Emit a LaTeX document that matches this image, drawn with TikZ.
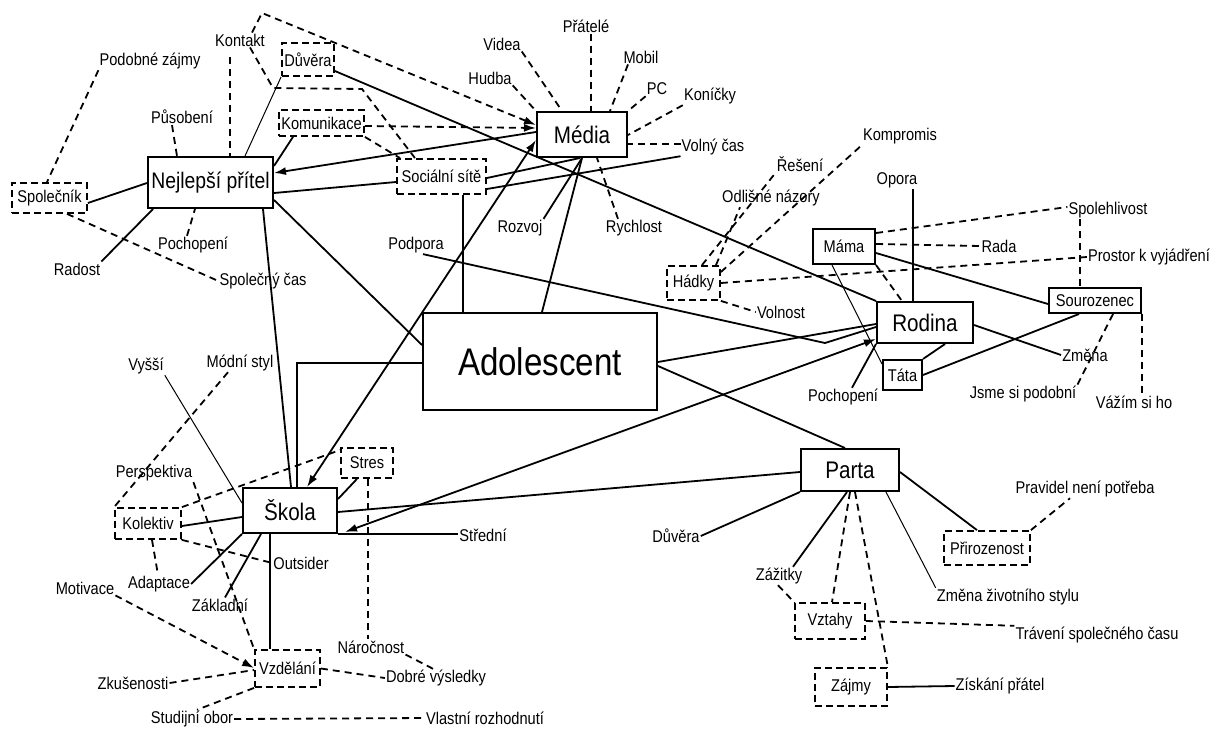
\documentclass[tikz,border=0pt]{standalone}
\usepackage{fontspec}
\setmainfont{Liberation Sans}[FakeStretch=0.86]
\usetikzlibrary{arrows.meta}
\begin{document}
\begin{tikzpicture}[x=1pt,y=-1pt,
  lab/.style={inner sep=1pt,font=\fontsize{17}{18}\selectfont},
  bx/.style={draw,line width=2pt,inner sep=0pt,font=\fontsize{17}{18}\selectfont},
  dbx/.style={draw,line width=1.8pt,dash pattern=on 7pt off 4pt,inner sep=0pt,font=\fontsize{17}{18}\selectfont},
  big/.style={font=\fontsize{24}{26}\selectfont},
  ln/.style={line width=1.8pt},
  tn/.style={line width=1pt},
  dl/.style={line width=1.8pt,dash pattern=on 7pt off 5pt},
  tip/.style={-{Latex[length=12pt,width=8pt]}},
]
\fill[white] (0,0) rectangle (1219,731);
\useasboundingbox (0,0) rectangle (1219,731);

% ---- solid boxes
\node[bx,big,minimum width=125pt,minimum height=51pt,font=\fontsize{22.5}{24}\selectfont] (np) at (210.5,182.5) {Nejlepší přítel};
\node[bx,big,minimum width=90pt,minimum height=45pt] (media) at (582,134.5) {Média};
\node[bx,minimum width=234pt,minimum height=97pt,font=\fontsize{38.5}{40}\selectfont] (adol) at (540,361.5) {Adolescent};
\node[bx,big,minimum width=96pt,minimum height=41pt] (rodina) at (925,322.5) {Rodina};
\node[bx,minimum width=62pt,minimum height=35pt] (mama) at (844,246.5) {Máma};
\node[bx,minimum width=39pt,minimum height=30pt] (tata) at (902.5,375) {Táta};
\node[bx,minimum width=92pt,minimum height=25pt] (souro) at (1095,300.5) {Sourozenec};
\node[bx,big,minimum width=98pt,minimum height=42pt] (parta) at (850,470) {Parta};
\node[bx,big,minimum width=94pt,minimum height=45pt] (skola) at (290,510.5) {Škola};

% ---- dashed boxes
\node[dbx,minimum width=52pt,minimum height=33pt] (duvera) at (308,59.5) {Důvěra};
\node[dbx,minimum width=85pt,minimum height=26pt] (komun) at (321.5,123) {Komunikace};
\node[dbx,minimum width=89pt,minimum height=35pt] (socs) at (441.5,176.5) {Sociální sítě};
\node[dbx,minimum width=75pt,minimum height=30pt] (spol) at (49.5,198) {Společník};
\node[dbx,minimum width=53pt,minimum height=34pt] (hadky) at (693.5,283) {Hádky};
\node[dbx,minimum width=52pt,minimum height=30pt] (stres) at (367,463) {Stres};
\node[dbx,minimum width=66pt,minimum height=31pt] (kolektiv) at (148,523.5) {Kolektiv};
\node[dbx,minimum width=65pt,minimum height=37pt] (vzdel) at (287.5,668.5) {Vzdělání};
\node[dbx,minimum width=86pt,minimum height=34pt] (priroz) at (987,548) {Přirozenost};
\node[dbx,minimum width=70pt,minimum height=36pt] (vztahy) at (830,621) {Vztahy};
\node[dbx,minimum width=72pt,minimum height=38pt] (zajmy) at (851,687) {Zájmy};

% ---- labels
\node[lab] (podz) at (150,61) {Podobné zájmy};
\node[lab] (kontakt) at (240,40) {Kontakt};
\node[lab] (pusob) at (182,117) {Působení};
\node[lab] (pochL) at (193,245) {Pochopení};
\node[lab] (radost) at (77,269) {Radost};
\node[lab] (spcas) at (263,281) {Společný čas};
\node[lab] (videa) at (502,44) {Videa};
\node[lab] (pratele) at (586,26) {Přátelé};
\node[lab] (mobil) at (641,57) {Mobil};
\node[lab] (hudba) at (490,78) {Hudba};
\node[lab] (pc) at (657,89) {PC};
\node[lab] (konicky) at (710,96) {Koníčky};
\node[lab] (volny) at (713,147) {Volný čas};
\node[lab] (rozvoj) at (520,228) {Rozvoj};
\node[lab] (rychlost) at (634,228) {Rychlost};
\node[lab] (podpora) at (416,245) {Podpora};
\node[lab] (reseni) at (800,164) {Řešení};
\node[lab] (odlisne) at (771,198) {Odlišné názory};
\node[lab] (kompromis) at (900,136) {Kompromis};
\node[lab] (opora) at (897,180) {Opora};
\node[lab] (spoleh) at (1108,210) {Spolehlivost};
\node[lab] (rada) at (999,246) {Rada};
\node[lab] (prostor) at (1149,257) {Prostor k vyjádření};
\node[lab] (volnost) at (781,312) {Volnost};
\node[lab] (zmena) at (1085,355) {Změna};
\node[lab] (jsme) at (1023,394) {Jsme si podobní};
\node[lab] (vazim) at (1134,402) {Vážím si ho};
\node[lab] (pochR) at (843,397) {Pochopení};
\node[lab] (vyssi) at (146,366) {Vyšší};
\node[lab] (modni) at (240,363) {Módní styl};
\node[lab] (persp) at (154,473) {Perspektiva};
\node[lab] (motivace) at (85,588) {Motivace};
\node[lab] (adaptace) at (159,584) {Adaptace};
\node[lab] (zakladni) at (220,605) {Základní};
\node[lab] (outsider) at (301,563) {Outsider};
\node[lab] (stredni) at (483,535) {Střední};
\node[lab] (narocnost) at (371,647) {Náročnost};
\node[lab] (dobre) at (436,678) {Dobré výsledky};
\node[lab] (zkus) at (133,683) {Zkušenosti};
\node[lab] (studijni) at (192,719) {Studijní obor};
\node[lab] (vlastni) at (485,718) {Vlastní rozhodnutí};
\node[lab] (duvP) at (676,536) {Důvěra};
\node[lab] (zazitky) at (779,576) {Zážitky};
\node[lab] (pravidel) at (1085,489) {Pravidel není potřeba};
\node[lab] (zmenaz) at (1008,597) {Změna životního stylu};
\node[lab] (traveni) at (1097,635) {Trávení společného času};
\node[lab] (ziskani) at (1000,686) {Získání přátel};

\coordinate (ktop) at (262,13);
\coordinate (kbend1) at (273,88);
\coordinate (kbend2) at (362,89);
\coordinate (pbend) at (825,343);

% ---- solid connectors
\draw[ln] (spol.east |- 0,203) -- (np.west |- 0,183);
\draw[ln] (radost.north east) -- (np.south -| 153,0);
\draw[tn] (duvera.south west) -- (np.north -| 245,0);
\draw[ln] (komun.south -| 293,0) -- (np.east |- 0,166);
\draw[ln,tip] (media.west |- 0,132) -- (np.east |- 0,173);
\draw[ln] (np.east |- 0,193) -- (socs.west |- 0,182);
\draw[ln] (np.east |- 0,200) -- (adol.west |- 0,345);
\draw[ln] (np.south -| 263,0) -- (skola.north -| 291,0);
\draw[ln] (adol.west |- 0,363) -| (skola.north -| 297,0);
\draw[ln] (duvera.east |- 0,71) -- (rodina.north west);
\draw[ln] (socs.east |- 0,178) -- (media.south -| 580,0);
\draw[ln] (socs.east |- 0,189) -- (volny.south west);
\draw[ln] (socs.south -| 463,0) -- (adol.north -| 463,0);
\draw[ln] (adol.north -| 542,0) -- (media.south -| 582,0);
\draw[ln] (rozvoj.north east) -- (media.south -| 582,0);
\draw[ln,{Latex[length=12pt,width=8pt]}-{Latex[length=12pt,width=8pt]}] (skola.north -| 307,0) -- (media.west |- 0,140);
\draw[ln] (adol.east |- 0,362) -- (rodina.west |- 0,324);
\draw[ln] (adol.east |- 0,366) -- (parta.north -| 845,0);
\draw[ln] (parta.west |- 0,472) -- (skola.east |- 0,512);
\draw[ln,{Latex[length=12pt,width=8pt]}-{Latex[length=12pt,width=8pt]}] ([xshift=7pt,yshift=2pt]skola.south east) -- (rodina.west |- 0,339);
\draw[ln] (podpora.south -| 423,0) -- (pbend) -- (rodina.west |- 0,327);
\draw[ln] (skola.south east) -- (skola.south east -| stredni.west);
\draw[ln] (skola.east |- 0,499) -- (stres.south -| 357,0);
\draw[ln] (skola.south -| 270,0) -- (vzdel.north -| 270,0);
\draw[ln] (skola.south west) -- (adaptace.east);
\draw[ln] (skola.south -| 261,0) -- (zakladni.north -| 225,0);
\draw[ln] (kolektiv.east |- 0,526) -- (skola.west |- 0,517);
\draw[tn] (vyssi.south east) -- (skola.west |- 0,503);
\draw[ln] (mama.east |- 0,253) -- (souro.west |- 0,304);
\draw[tn] (mama.south -| 832,0) -- (tata.west |- 0,364);
\draw[ln] (opora.south -| 913,0) -- (rodina.north -| 913,0);
\draw[ln] (souro.south -| 1079,0) -- (tata.east |- 0,375);
\draw[ln] (rodina.east |- 0,325) -- (zmena.west);
\draw[ln] (rodina.south -| 945,0) -- (tata.north east);
\draw[ln] (pochR.north -| 852,0) -- (rodina.south west);
\draw[ln] (parta.south west) -- (duvP.east);
\draw[ln] (parta.south -| 847,0) -- (zazitky.north -| 793,0);
\draw[tn] (parta.south -| 886,0) -- (zmenaz.north west);
\draw[ln] (parta.east |- 0,472) -- (priroz.north -| 977,0);
\draw[ln] (zajmy.east) -- (ziskani.west);

% ---- dashed connectors
\draw[dl] (podz.south west) -- (spol.north -| 47,0);
\draw[dl] ([yshift=-10pt]kontakt.south -| 230,0) -- (np.north -| 230,0);
\draw[dl,tip] (kontakt.north -| 252,0) -- (ktop) -- (media.west |- 0,125);
\draw[dl] (kontakt.south -| 250,0) -- (kbend1) -- (kbend2) -- (socs.north -| 415,0);
\draw[dl,tip] (komun.east |- 0,126) -- (media.west |- 0,128);
\draw[dl] (komun.south east) -- (socs.north -| 400,0);
\draw[dl] (spol.south -| 67,0) -- (spcas.west);
\draw[dl] (pusob.south -| 172,0) -- (np.north -| 177,0);
\draw[dl] (pochL.north -| 187,0) -- (np.south -| 195,0);
\draw[dl] (videa.south east) -- (media.north -| 562,0);
\draw[dl] (pratele.south -| 591,0) -- (media.north -| 591,0);
\draw[dl] (mobil.south -| 628,0) -- (media.north -| 610,0);
\draw[dl] (hudba.south east) -- (media.north west);
\draw[dl] (pc.south west) -- (media.north east);
\draw[dl] (konicky.south west) -- (media.east |- 0,135);
\draw[dl] (volny.west |- 0,144) -- (media.east |- 0,144);
\draw[dl] (rychlost.north -| 618,0) -- (media.south -| 597,0);
\draw[dl] (hadky.north -| 702,0) -- (reseni.south west);
\draw[dl] (hadky.north -| 716,0) -- (odlisne.south -| 740,0);
\draw[dl] (hadky.east |- 0,272) -- (kompromis.south west);
\draw[dl] (hadky.east |- 0,283) -- (prostor.west);
\draw[dl] (hadky.south east) -- (volnost.west);
\draw[dl] (mama.east |- 0,233) -- (spoleh.west |- 0,207);
\draw[dl] (mama.east |- 0,244) -- (rada.west);
\draw[dl] (mama.south east) -- (rodina.north -| 902,0);
\draw[dl] (spoleh.south -| 1080,0) -- (souro.north -| 1080,0);
\draw[dl] (souro.south east) -- (vazim.north -| 1142,0);
\draw[dl] (souro.south -| 1113,0) -- (jsme.north east);
\draw[dl] (stres.south -| 368,0) -- (narocnost.north -| 368,0);
\draw[dl] (narocnost.south east) -- (dobre.north -| 433,0);
\draw[dl] (vzdel.east) -- (dobre.west);
\draw[dl] (modni.south -| 228,0) -- (kolektiv.north west);
\draw[dl] (persp.south east) -- (vzdel.north west);
\draw[dl] (kolektiv.north east) -- (stres.west |- 0,450);
\draw[dl] (kolektiv.south east) -- (outsider.west);
\draw[dl] (kolektiv.south -| 152,0) -- (adaptace.north -| 158,0);
\draw[dl,tip] (motivace.south east) -- (vzdel.west |- 0,668);
\draw[dl] (zkus.east) -- (vzdel.west |- 0,670);
\draw[dl] (vzdel.south west) -- (studijni.north -| 197,0);
\draw[dl] (studijni.east) -- (vlastni.west);
\draw[dl] (zazitky.south -| 778,0) -- (vztahy.north west);
\draw[dl] (parta.south -| 850,0) -- (vztahy.north -| 832,0);
\draw[dl] (parta.south -| 855,0) -- (zajmy.north east);
\draw[dl] (priroz.north east) -- (pravidel.south -| 1070,0);
\draw[dl] (vztahy.east) -- (traveni.north west);
\end{tikzpicture}
\end{document}
